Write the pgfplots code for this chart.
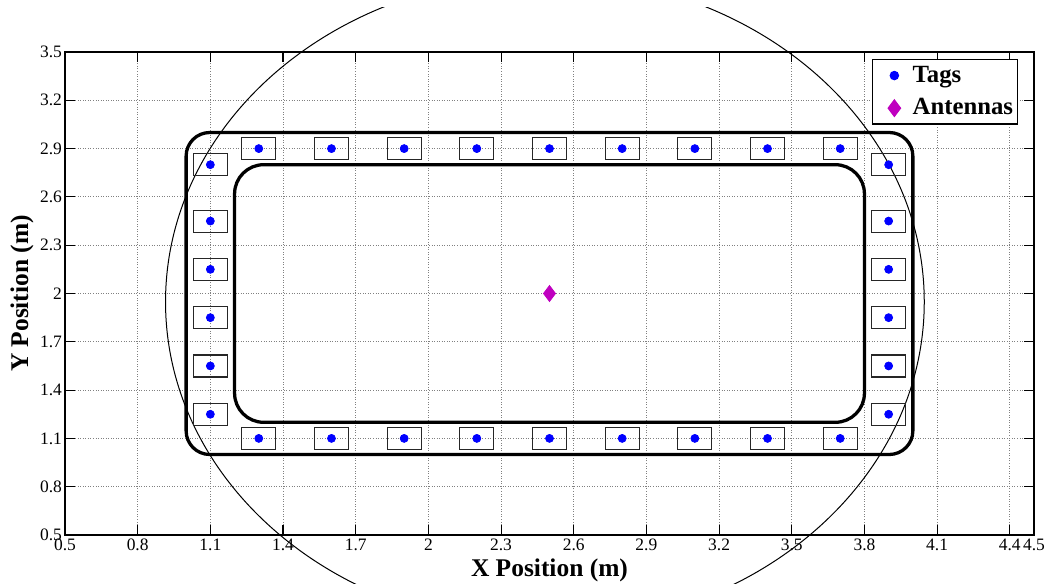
\documentclass[border=0pt]{standalone}
\usepackage{fontspec}
\setmainfont{Liberation Serif}
\usepackage{pgfplots}
\usepackage{pgfplotstable}
\pgfplotsset{compat=1.18}
\definecolor{tagblue}{RGB}{0,0,255}
\definecolor{antmag}{RGB}{191,0,191}
\pgfdeclareplotmark{tagbox}{\pgfpathrectangle{\pgfpoint{-9.35pt}{-6.05pt}}{\pgfpoint{18.7pt}{12.1pt}}\pgfusepathqstroke}

\pgfplotstableread{
x y
1.3 2.9
1.6 2.9
1.9 2.9
2.2 2.9
2.5 2.9
2.8 2.9
3.1 2.9
3.4 2.9
3.7 2.9
1.3 1.1
1.6 1.1
1.9 1.1
2.2 1.1
2.5 1.1
2.8 1.1
3.1 1.1
3.4 1.1
3.7 1.1
1.1 2.8
1.1 2.45
1.1 2.15
1.1 1.85
1.1 1.55
1.1 1.25
3.9 2.8
3.9 2.45
3.9 2.15
3.9 1.85
3.9 1.55
3.9 1.25
}\tags

\begin{document}
\begin{tikzpicture}
\begin{axis}[
  scale only axis, width=532.95pt, height=265.65pt,
  xmin=0.5, xmax=4.5, ymin=0.5, ymax=3.5,
  xtick={0.5,0.8,1.1,1.4,1.7,2,2.3,2.6,2.9,3.2,3.5,3.8,4.1,4.4,4.5},
  xticklabels={0.5,0.8,1.1,1.4,1.7,2,2.3,2.6,2.9,3.2,3.5,3.8,4.1,4.4,4.5},
  ytick={0.5,0.8,1.1,1.4,1.7,2,2.3,2.6,2.9,3.2,3.5},
  yticklabels={0.5,0.8,1.1,1.4,1.7,2,2.3,2.6,2.9,3.2,3.5},
  grid=major,
  major grid style={densely dotted, black!50, line width=0.5pt},
  tick align=inside, tick pos=both, major tick length=5.5pt,
  every tick/.style={black, line width=0.6pt},
  axis line style={line width=0.8pt},
  ticklabel style={font=\fontsize{9.6}{10}\selectfont},
  /pgf/number format/assume math mode=true,
  xticklabel style={inner sep=1.8pt},
  yticklabel style={inner sep=1.5pt},
  xlabel={X Position (m)}, ylabel={Y Position (m)},
  label style={font=\bfseries\fontsize{14}{16}\selectfont},
  xlabel style={at={(axis description cs:0.5,-0.0725)}, anchor=center},
  ylabel style={at={(axis description cs:-0.0444,0.5)}, anchor=center},
  clip=false,
  legend style={at={(0.9838,0.9855)}, anchor=north east, draw=black,
    line width=0.8pt, font=\bfseries\fontsize{13.6}{15}\selectfont,
    inner xsep=2pt, inner ysep=1.5pt, row sep=3.5pt,
    nodes={inner xsep=0.5pt}},
  legend cell align=left,
  legend image code/.code={%
    \path (-9.6pt,0pt) (9.2pt,0pt);
    \draw[#1] plot coordinates {(0pt,0pt)};},
]
\addplot[line width=1.8pt, rounded corners=13pt, mark=none, forget plot]
  coordinates {(2.5,1) (4,1) (4,3) (1,3) (1,1) (2.5,1)};
\addplot[line width=1.8pt, rounded corners=16pt, mark=none, forget plot]
  coordinates {(2.5,1.2) (3.8,1.2) (3.8,2.8) (1.2,2.8) (1.2,1.2) (2.5,1.2)};
\addplot[only marks, mark=tagbox, mark options={draw=black!85, line width=0.6pt}, forget plot]
  table[x=x, y=y] {\tags};
\begin{scope}
\clip (axis cs:0,0.2019) rectangle (axis cs:5,3.7795);
\draw[line width=0.55pt] (axis cs:2.481,1.948) ellipse [x radius=1.566, y radius=2.023];
\end{scope}
\addplot[only marks, mark=*, mark size=2.2pt, color=tagblue] table[x=x, y=y] {\tags};
\addplot[only marks, mark=diamond*, mark size=4.4pt, color=antmag] coordinates {(2.5,2)};
\legend{Tags, Antennas}
\coordinate (bbsw) at (axis cs:0.23168,0.18944);
\coordinate (bbne) at (axis cs:4.58669,3.82298);
\end{axis}
\pgfresetboundingbox
\useasboundingbox (bbsw) rectangle (bbne);
\end{tikzpicture}
\end{document}
